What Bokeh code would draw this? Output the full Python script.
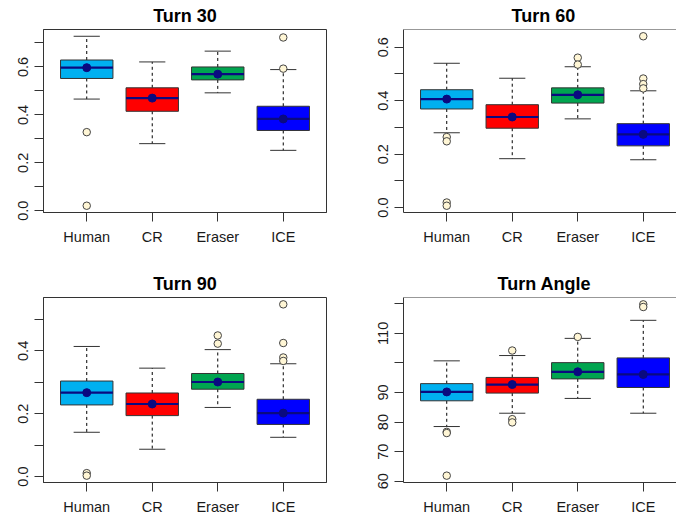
from bokeh.plotting import figure
from bokeh.layouts import gridplot
from bokeh.models import FixedTicker, Range1d, Span, ColumnDataSource
from bokeh.embed import file_html
from bokeh.resources import INLINE

GROUPS = ["Human", "CR", "Eraser", "ICE"]
GROUP_X = [1, 2, 3, 4]
COLORS = ["#00B0F0", "#FF0000", "#00A550", "#0000FF"]

# ---- Turn 30
T30_LO = [0.466, 0.280, 0.492, 0.252]
T30_Q1 = [0.552, 0.415, 0.546, 0.335]
T30_MED = [0.597, 0.470, 0.570, 0.383]
T30_Q3 = [0.629, 0.513, 0.600, 0.436]
T30_HI = [0.728, 0.621, 0.666, 0.589]
T30_MEAN = [0.597, 0.470, 0.570, 0.383]
T30_OUT_G = ["Human", "Human", "ICE", "ICE"]
T30_OUT_V = [0.328, 0.021, 0.723, 0.593]
T30_YTICKS = [0.0, 0.1, 0.2, 0.3, 0.4, 0.5, 0.6, 0.7]
T30_YLABELS = ["0.0", "", "0.2", "", "0.4", "", "0.6", ""]

# ---- Turn 60
T60_LO = [0.280, 0.183, 0.332, 0.179]
T60_Q1 = [0.369, 0.297, 0.391, 0.231]
T60_MED = [0.406, 0.339, 0.422, 0.274]
T60_Q3 = [0.441, 0.385, 0.448, 0.314]
T60_HI = [0.540, 0.484, 0.527, 0.437]
T60_MEAN = [0.406, 0.339, 0.422, 0.274]
T60_OUT_G = ["Human", "Human", "Human", "Human", "Eraser", "Eraser", "ICE", "ICE", "ICE", "ICE"]
T60_OUT_V = [0.264, 0.248, 0.019, 0.007, 0.561, 0.535, 0.641, 0.483, 0.462, 0.446]
T60_YTICKS = [0.0, 0.1, 0.2, 0.3, 0.4, 0.5, 0.6]
T60_YLABELS = ["0.0", "", "0.2", "", "0.4", "", "0.6"]

# ---- Turn 90
T90_LO = [0.141, 0.087, 0.220, 0.125]
T90_Q1 = [0.228, 0.194, 0.278, 0.166]
T90_MED = [0.267, 0.231, 0.301, 0.202]
T90_Q3 = [0.304, 0.266, 0.328, 0.246]
T90_HI = [0.414, 0.345, 0.404, 0.359]
T90_MEAN = [0.267, 0.231, 0.301, 0.202]
T90_OUT_G = ["Human", "Human", "Eraser", "Eraser", "ICE", "ICE", "ICE", "ICE"]
T90_OUT_V = [0.011, 0.003, 0.449, 0.423, 0.548, 0.425, 0.379, 0.368]
T90_YTICKS = [0.0, 0.1, 0.2, 0.3, 0.4, 0.5]
T90_YLABELS = ["0.0", "", "0.2", "", "0.4", ""]

# ---- Turn Angle
TA_LO = [78.5, 83.0, 88.0, 83.0]
TA_Q1 = [87.2, 89.8, 94.6, 91.7]
TA_MED = [90.2, 92.7, 97.0, 96.1]
TA_Q3 = [93.0, 95.1, 100.1, 101.7]
TA_HI = [100.7, 102.5, 108.3, 114.4]
TA_MEAN = [90.2, 92.7, 97.0, 96.1]
TA_OUT_G = ["Human", "Human", "Human", "CR", "CR", "CR", "Eraser", "ICE", "ICE"]
TA_OUT_V = [76.7, 76.3, 61.9, 104.2, 81.0, 79.9, 108.8, 119.8, 118.9]
TA_YTICKS = [60, 70, 80, 90, 100, 110, 120]
TA_YLABELS = ["60", "70", "80", "90", "", "110", ""]

FONT = "Liberation Sans"
DARK = "#333333"
NAVY = "#0A0A80"


def make_panel(title, lo, q1, med, q3, hi, mean, out_g, out_v, yticks, ylabels,
               right_col, top_row, title_offset=0):
    frame_w = 273 if right_col else 283
    x0 = 0.34
    x1 = 0.34 + 4.32 * frame_w / 283.0
    vals = lo + hi + out_v
    ymin, ymax = min(vals), max(vals)
    pad = 0.04 * (ymax - ymin)
    y0, y1 = ymin - pad, ymax + pad
    if top_row:
        bt, fh, bb = 27, 185, 48
    else:
        bt, fh, bb = 37, 185, 37
    if right_col:
        bl, br = 58, 0
    else:
        bl, br = 43, 19
    p = figure(width=bl + frame_w + br, height=bt + fh + bb,
               x_range=Range1d(x0, x1), y_range=Range1d(y0, y1),
               output_backend="svg", toolbar_location=None,
               min_border_left=bl, min_border_right=br,
               min_border_top=bt, min_border_bottom=bb)
    p.background_fill_color = "white"
    p.border_fill_color = "white"
    p.xgrid.visible = False
    p.ygrid.visible = False

    src = ColumnDataSource(dict(
        x=GROUP_X,
        sl=[g - 0.2 for g in GROUP_X], sr=[g + 0.2 for g in GROUP_X],
        bl=[g - 0.4 for g in GROUP_X], br=[g + 0.4 for g in GROUP_X],
        lo=lo, q1=q1, med=med, q3=q3, hi=hi, mean=mean, color=COLORS,
    ))
    # whiskers
    p.segment(x0="x", y0="q3", x1="x", y1="hi", source=src,
              line_color="black", line_width=1, line_dash="3 3")
    p.segment(x0="x", y0="q1", x1="x", y1="lo", source=src,
              line_color="black", line_width=1, line_dash="3 3")
    # staples
    p.segment(x0="sl", y0="hi", x1="sr", y1="hi", source=src,
              line_color=DARK, line_width=1)
    p.segment(x0="sl", y0="lo", x1="sr", y1="lo", source=src,
              line_color=DARK, line_width=1)
    # boxes
    p.vbar(x="x", width=0.8, bottom="q1", top="q3", source=src,
           fill_color="color", line_color=DARK, line_width=1)
    # medians
    p.segment(x0="bl", y0="med", x1="br", y1="med", source=src,
              line_color=NAVY, line_width=2.2)
    # means
    p.scatter(x="x", y="mean", source=src, size=8,
              fill_color=NAVY, line_color=NAVY)
    # outliers
    out_src = ColumnDataSource(dict(
        x=[GROUP_X[GROUPS.index(g)] for g in out_g], y=out_v))
    p.scatter(x="x", y="y", source=out_src, size=7.5,
              fill_color="#FFF6D5", line_color="#444444", line_width=1)

    # axes
    p.xaxis.ticker = FixedTicker(ticks=GROUP_X)
    p.xaxis.major_label_overrides = {gx: g for gx, g in zip(GROUP_X, GROUPS)}
    p.yaxis.ticker = FixedTicker(ticks=yticks)
    p.yaxis.major_label_overrides = {t: l for t, l in zip(yticks, ylabels)}
    p.yaxis.major_label_orientation = "vertical"
    for ax in (p.xaxis[0], p.yaxis[0]):
        ax.axis_line_color = DARK
        ax.axis_line_width = 1
        ax.major_tick_line_color = DARK
        ax.major_tick_out = 9
        ax.major_tick_in = 0
        ax.minor_tick_line_color = None
        ax.major_label_text_font = FONT
        ax.major_label_text_font_size = "14.5px"
        ax.major_label_text_color = "#1a1a1a"
    p.xaxis.major_label_standoff = 7
    p.yaxis.major_label_standoff = 6

    if right_col:
        p.outline_line_color = None
        p.add_layout(Span(location=y1, dimension="width",
                          line_color=DARK, line_width=1))
    else:
        p.outline_line_color = DARK
        p.outline_line_width = 1

    p.title.text = title
    p.title.text_font = FONT
    p.title.text_font_size = "18px"
    p.title.text_font_style = "bold"
    p.title.text_color = "black"
    p.title.standoff = 7 if top_row else 8
    if right_col:
        p.title.align = "left"
        p.title.offset = title_offset
    else:
        p.title.align = "center"
    return p


p1 = make_panel("Turn 30", T30_LO, T30_Q1, T30_MED, T30_Q3, T30_HI, T30_MEAN,
                T30_OUT_G, T30_OUT_V, T30_YTICKS, T30_YLABELS, False, True)
p2 = make_panel("Turn 60", T60_LO, T60_Q1, T60_MED, T60_Q3, T60_HI, T60_MEAN,
                T60_OUT_G, T60_OUT_V, T60_YTICKS, T60_YLABELS, True, True, 108)
p3 = make_panel("Turn 90", T90_LO, T90_Q1, T90_MED, T90_Q3, T90_HI, T90_MEAN,
                T90_OUT_G, T90_OUT_V, T90_YTICKS, T90_YLABELS, False, False)
p4 = make_panel("Turn Angle", TA_LO, TA_Q1, TA_MED, TA_Q3, TA_HI, TA_MEAN,
                TA_OUT_G, TA_OUT_V, TA_YTICKS, TA_YLABELS, True, False, 94)

grid = gridplot([[p1, p2], [p3, p4]], toolbar_location=None)

open("out.html", "w").write(file_html(grid, INLINE))
